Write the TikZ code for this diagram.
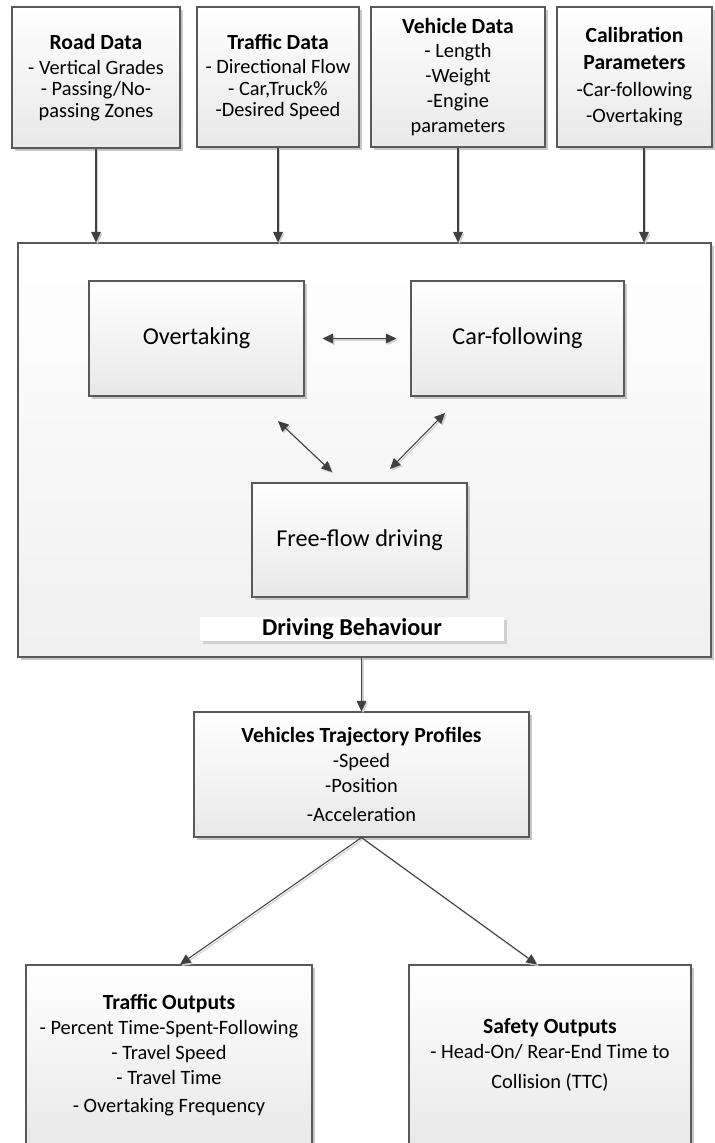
\documentclass[tikz,border=0pt]{standalone}
\usepackage{fontspec}
\setmainfont{Carlito}
\usetikzlibrary{arrows.meta,shadows}

\newcommand\smallfnt{\fontsize{11.6}{14.2}\selectfont}
\newcommand\bigfnt{\fontsize{13.8}{16.5}\selectfont}
\newcommand\ttl[1]{{\fontsize{12.3}{14.2}\selectfont\bfseries #1}}

\tikzset{
  box/.style={draw=black!65, line width=0.6pt, top color=white, bottom color=black!9,
    drop shadow={shadow xshift=1.6pt, shadow yshift=-1.6pt, opacity=1, fill=black!22},
    align=center, inner sep=0pt, font=\smallfnt},
  conn/.style={draw=black!75, line width=0.6pt, >={Triangle[length=6pt,width=5.5pt]},
    preaction={draw=black!18, line width=0.7pt, transform canvas={shift={(0.9pt,-0.9pt)}}}},
}

\begin{document}
\begin{tikzpicture}
  \useasboundingbox (0,0) rectangle (14.28,-22.86);

  % Input boxes
  \node[box, minimum width=3.36cm, minimum height=2.82cm] (road) at (1.92,-1.55)
    {\ttl{Road Data}\\ - Vertical Grades\\[-2pt] - Passing/No-\\[-2pt] passing Zones};
  \node[box, minimum width=3.24cm, minimum height=2.80cm] (traffic) at (5.56,-1.54)
    {\ttl{Traffic Data}\\ - Directional Flow\\[-2pt] - Car,Truck\%\\[-2pt] -Desired Speed};
  \node[box, minimum width=3.48cm, minimum height=2.80cm] (vehicle) at (9.16,-1.54)
    {\ttl{Vehicle Data}\\ - Length\\ -Weight\\ -Engine\\ parameters};
  \node[box, minimum width=3.10cm, minimum height=2.80cm] (calib) at (12.69,-1.54)
    {\ttl{Calibration}\\[1pt] \ttl{Parameters}\\[1pt] -Car-following\\[1pt] -Overtaking};

  % Driving behaviour block
  \node[box, bottom color=black!6, minimum width=13.86cm, minimum height=8.28cm] (behav) at (7.29,-9.00) {};
  \node[box, font=\bigfnt, minimum width=4.30cm, minimum height=2.30cm] (overtake) at (3.93,-6.77) {Overtaking};
  \node[box, font=\bigfnt, minimum width=4.26cm, minimum height=2.30cm] (carfol) at (10.35,-6.77) {Car-following};
  \node[box, font=\bigfnt, minimum width=4.30cm, minimum height=2.28cm] (freeflow) at (7.19,-10.80) {Free-flow driving};
  \node[fill=white, drop shadow={shadow xshift=1.6pt, shadow yshift=-1.6pt, opacity=1, fill=black!18},
    inner sep=0pt, minimum width=6.08cm, minimum height=0.48cm, font=\bigfnt\bfseries] (behavlbl) at (7.04,-12.58)
    {Driving Behaviour};

  % Outputs
  \node[box, minimum width=6.70cm, minimum height=2.50cm] (vtp) at (7.23,-15.49)
    {\ttl{Vehicles Trajectory Profiles}\\ -Speed\\ -Position\\[2pt] -Acceleration};
  \node[box, minimum width=5.72cm, minimum height=3.60cm] (tout) at (3.38,-21.10)
    {\ttl{Traffic Outputs}\\ - Percent Time-Spent-Following\\ - Travel Speed\\ - Travel Time\\[2pt] - Overtaking Frequency};
  \node[box, minimum width=5.64cm, minimum height=3.60cm] (sout) at (11.00,-21.10)
    {\ttl{Safety Outputs}\\ - Head-On/ Rear-End Time to\\[2.5pt] Collision (TTC)};

  % Free ends of the diagonal arrows
  \coordinate (ovlow) at (5.56,-8.42);
  \coordinate (fflowl) at (6.64,-9.44);
  \coordinate (cflow) at (8.90,-8.26);
  \coordinate (fflowr) at (7.80,-9.38);

  % Connectors
  \draw[conn,->] (road.south) -- (road.south |- behav.north);
  \draw[conn,->] (traffic.south) -- (traffic.south |- behav.north);
  \draw[conn,->] (vehicle.south) -- (vehicle.south |- behav.north);
  \draw[conn,->] ([xshift=0.19cm]calib.south) -- ([xshift=0.19cm]calib.south |- behav.north);
  \draw[conn,<->] ([xshift=0.36cm]overtake.east) -- ([xshift=-0.28cm]carfol.west);
  \draw[conn,<->] (ovlow) -- (fflowl);
  \draw[conn,<->] (cflow) -- (fflowr);
  \draw[conn,->] (behav.south -| vtp.north) -- (vtp.north);
  \draw[conn,->] (vtp.south) -- ([xshift=0.22cm]tout.north);
  \draw[conn,->] (vtp.south) -- ([xshift=-0.26cm]sout.north);
\end{tikzpicture}
\end{document}
